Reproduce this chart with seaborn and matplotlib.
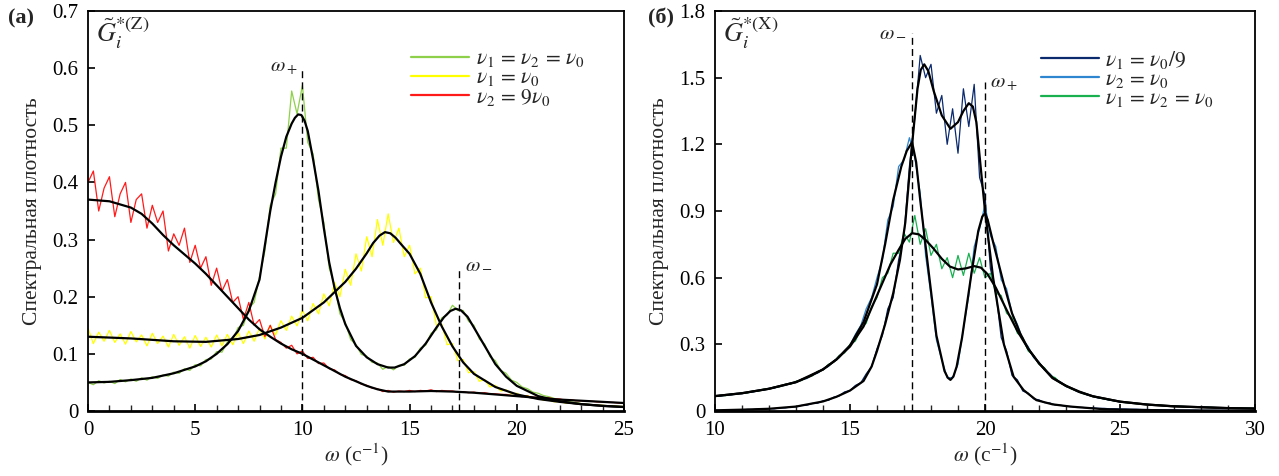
import numpy as np
import pandas as pd
import matplotlib
matplotlib.use("Agg")
import matplotlib.pyplot as plt
import seaborn as sns

# ---------------- Panel (a) data: noisy series on 0..25 step 0.25 ----------------
a_red = [
    .40, .42, .35, .39,
    .41, .34, .38, .40,
    .33, .37, .38, .32,
    .36, .33, .35, .28,
    .31, .29, .32, .26,
    .29, .25, .27, .22,
    .25, .21, .23, .19,
    .20, .16, .19, .15,
    .16, .13, .15, .125,
    .12, .11, .115, .10,
    .105, .092, .094, .083,
    .084, .074, .072, .064,
    .062, .055, .053, .047,
    .045, .040, .039, .034,
    .036, .033, .035, .034,
    .036, .034, .036, .035,
    .037, .034, .036, .035,
    .035, .033, .034, .032,
    .033, .031, .032, .030,
    .030, .029, .029, .027,
    .027, .025, .026, .024,
    .024, .022, .023, .021,
    .021, .019, .020, .018,
    .018, .017, .017, .016,
    .016, .015, .015, .014,
    .014]
a_green = [
    .050, .046, .053, .049,
    .052, .048, .055, .051,
    .056, .052, .058, .054,
    .060, .057, .063, .061,
    .068, .066, .074, .071,
    .081, .079, .090, .091,
    .104, .103, .121, .125,
    .146, .150, .180, .190,
    .235, .28, .36, .38,
    .46, .46, .56, .52,
    .57, .47, .45, .37,
    .33, .25, .22, .17,
    .155, .125, .116, .099,
    .096, .085, .084, .073,
    .078, .072, .080, .080,
    .091, .094, .110, .115,
    .136, .142, .163, .168,
    .185, .176, .176, .157,
    .150, .126, .117, .095,
    .088, .071, .066, .054,
    .050, .042, .039, .033,
    .031, .027, .025, .022,
    .020, .018, .016, .015,
    .013, .012, .011, .010,
    .009, .009, .008, .008,
    .007]
a_yellow = [
    .145, .118, .138, .122,
    .141, .120, .135, .117,
    .139, .121, .133, .114,
    .136, .118, .131, .112,
    .134, .115, .130, .110,
    .132, .113, .129, .112,
    .133, .114, .134, .116,
    .137, .118, .140, .122,
    .145, .126, .150, .133,
    .158, .141, .166, .149,
    .176, .158, .188, .170,
    .205, .184, .225, .200,
    .248, .220, .275, .245,
    .305, .270, .335, .290,
    .345, .295, .320, .270,
    .290, .240, .250, .198,
    .200, .150, .152, .116,
    .118, .088, .090, .067,
    .069, .052, .055, .042,
    .045, .035, .037, .030,
    .031, .026, .027, .022,
    .023, .019, .019, .016,
    .017, .014, .015, .013,
    .013, .011, .011, .010,
    .010, .009, .009, .008,
    .008]

# Panel (a) smooth (fitted) curves
a_fit_green_x = [0, 1, 2, 3, 4, 5, 5.5, 6, 6.5, 7, 7.5, 8, 8.25, 8.5, 8.75, 9, 9.25, 9.5,
                 9.65, 9.8, 9.95, 10.1, 10.25, 10.5, 10.75, 11, 11.25, 11.5, 11.75, 12, 12.5,
                 13, 13.5, 14, 14.3, 14.75, 15.25, 15.75, 16.25, 16.6, 16.9, 17.15, 17.4,
                 17.7, 18, 18.5, 19, 19.5, 20, 21, 22, 23, 24, 25]
a_fit_green_y = [.050, .051, .054, .058, .066, .078, .087, .100, .117, .140, .175, .23, .29,
                 .35, .40, .445, .48, .503, .513, .519, .518, .508, .49, .44, .385, .32, .26,
                 .215, .18, .152, .114, .094, .082, .076, .076, .082, .096, .118, .146, .164,
                 .175, .179, .176, .165, .146, .114, .082, .060, .044, .026, .017, .012, .009,
                 .007]
a_fit_yellow_x = [0, 2, 4, 5.5, 7, 8, 9, 10, 11, 12, 12.5, 13, 13.3, 13.6, 13.85, 14.1, 14.35,
                  14.6, 15, 15.5, 16, 16.5, 17, 17.5, 18, 19, 20, 21, 22, 23, 24, 25]
a_fit_yellow_y = [.130, .127, .122, .121, .126, .133, .146, .163, .19, .226, .249, .276, .294,
                  .307, .313, .311, .303, .292, .275, .24, .19, .148, .113, .085, .065, .042,
                  .029, .021, .016, .012, .009, .007]
a_fit_red_x = [0, 1, 2, 2.5, 3, 3.5, 4, 4.5, 5, 5.5, 6, 6.5, 7, 7.5, 8, 8.5, 9, 9.5, 10,
               10.5, 11, 11.5, 12, 12.5, 13, 13.5, 14, 15, 16, 17, 18, 19, 20, 21, 22, 23,
               24, 25]
a_fit_red_y = [.37, .367, .356, .345, .328, .308, .29, .274, .258, .24, .22, .2, .18, .16,
               .143, .13, .118, .108, .1, .09, .08, .07, .06, .052, .044, .038, .034, .034,
               .035, .034, .032, .029, .026, .023, .02, .018, .016, .014]

# ---------------- Panel (б) data: noisy series on 10..30 step 0.2 ----------------
b_navy = [
    .004, .002, .005, .003, .006,
    .005, .007, .006, .009, .008,
    .011, .010, .014, .014, .018,
    .019, .025, .026, .034, .035,
    .046, .048, .062, .068, .086,
    .092, .115, .127, .167, .20,
    .28, .34, .46, .51, .68,
    .79, 1.10, 1.32, 1.60, 1.50,
    1.56, 1.34, 1.42, 1.20, 1.36,
    1.16, 1.45, 1.28, 1.47, 1.05,
    .97, .64, .54, .33, .27,
    .16, .14, .09, .08, .055,
    .05, .038, .036, .027, .026,
    .021, .020, .016, .016, .014,
    .014, .012, .012, .010, .010,
    .009, .009, .008, .008, .007,
    .007, .006, .006, .005, .005,
    .005, .004, .004, .004, .004,
    .003, .003, .003, .003, .003,
    .002, .002, .002, .002, .002,
    .002]
b_blue = [
    .069, .066, .073, .072, .079,
    .078, .085, .085, .093, .093,
    .102, .103, .114, .115, .126,
    .128, .142, .146, .164, .170,
    .19, .20, .226, .24, .272,
    .295, .345, .385, .46, .51,
    .60, .68, .86, .92, 1.10,
    1.13, 1.23, 1.14, .98, .70,
    .52, .32, .23, .15, .15,
    .21, .37, .52, .74, .82,
    .93, .79, .74, .59, .55,
    .44, .39, .32, .29, .24,
    .22, .185, .168, .142, .130,
    .110, .103, .088, .083, .071,
    .068, .058, .056, .048, .047,
    .040, .040, .035, .035, .030,
    .030, .027, .027, .024, .024,
    .022, .021, .020, .019, .018,
    .017, .017, .016, .015, .015,
    .014, .013, .013, .012, .012,
    .011]
b_green = [
    .065, .071, .069, .077, .075,
    .083, .081, .090, .089, .098,
    .098, .108, .109, .120, .121,
    .134, .137, .153, .158, .178,
    .185, .21, .22, .25, .262,
    .30, .315, .37, .395, .47,
    .51, .60, .62, .71, .71,
    .80, .76, .88, .75, .82,
    .70, .75, .64, .69, .60,
    .70, .61, .71, .62, .69,
    .60, .62, .53, .52, .44,
    .42, .35, .33, .27, .25,
    .21, .195, .16, .15, .125,
    .116, .099, .092, .079, .075,
    .065, .061, .054, .051, .045,
    .043, .038, .037, .033, .032,
    .029, .028, .026, .025, .023,
    .022, .021, .020, .019, .018,
    .017, .016, .016, .015, .014,
    .014, .013, .013, .012, .012,
    .011]

# Panel (б) smooth (fitted) curves
b_fit_navy_x = [10, 11, 12, 13, 14, 14.5, 15, 15.5, 15.8, 16, 16.3, 16.6, 16.85, 17.05, 17.3,
                17.5, 17.62, 17.75, 17.9, 18.1, 18.4, 18.72, 19.0, 19.2, 19.4, 19.55, 19.68,
                19.83, 20.0, 20.3, 20.7, 21.06, 21.43, 21.9, 22.5, 23.16, 24.4, 26, 28, 30]
b_fit_navy_y = [.003, .006, .010, .020, .043, .064, .092, .135, .2, .27, .39, .53, .68, .85,
                1.2, 1.45, 1.535, 1.56, 1.53, 1.44, 1.33, 1.27, 1.3, 1.35, 1.385, 1.37, 1.3,
                1.11, .9, .6, .3, .154, .094, .049, .03, .02, .008, .004, .002, .001]
b_fit_blue_x = [10, 11, 12, 13, 14, 14.5, 15, 15.5, 16, 16.3, 16.6, 16.9, 17.1, 17.3, 17.45,
                17.6, 17.9, 18.2, 18.5, 18.62, 18.72, 18.83, 18.95, 19.15, 19.5, 19.75, 19.9,
                20.0, 20.1, 20.3, 20.7, 21.0, 21.3, 21.6, 22, 22.5, 23, 23.5, 24, 25, 26, 27,
                28, 29, 30]
b_fit_blue_y = [.067, .08, .10, .13, .187, .232, .295, .40, .57, .75, .95, 1.1, 1.17, 1.21,
                1.12, .95, .64, .34, .18, .15, .14, .155, .2, .33, .62, .81, .875, .89, .86,
                .76, .57, .44, .35, .28, .215, .15, .113, .085, .066, .042, .029, .021, .017,
                .013, .011]
b_fit_green_x = [10, 11, 12, 13, 13.5, 14, 14.5, 15, 15.5, 16, 16.5, 16.8, 17.05, 17.3, 17.55,
                 17.8, 18.1, 18.4, 18.7, 19.0, 19.3, 19.6, 19.85, 20.1, 20.4, 20.8, 21.2, 21.6,
                 22, 22.5, 23, 23.5, 24, 25, 26, 27, 28, 29, 30]
b_fit_green_y = [.067, .08, .10, .13, .155, .187, .232, .29, .38, .52, .66, .725, .775, .80,
                 .795, .77, .73, .685, .65, .637, .642, .652, .645, .615, .555, .455, .36, .28,
                 .215, .148, .113, .087, .066, .042, .029, .021, .017, .013, .011]

a_labels = [r"$\nu_1\,=\,\nu_2\,=\,\nu_0$", r"$\nu_1\,=\,\nu_0$", r"$\nu_2\,=\,9\nu_0$"]
b_labels = [r"$\nu_1\,=\,\nu_0/9$", r"$\nu_2\,=\,\nu_0$", r"$\nu_1\,=\,\nu_2\,=\,\nu_0$"]

a_x = np.linspace(0, 25, len(a_red))
b_x = np.linspace(10, 30, len(b_navy))

# ---------------- style ----------------
sns.set_style("white")
plt.rcParams["font.family"] = ["Liberation Serif", "DejaVu Serif"]
plt.rcParams["mathtext.fontset"] = "stix"
plt.rcParams["axes.linewidth"] = 1.3
plt.rcParams["axes.edgecolor"] = "black"

fig = plt.figure(figsize=(12.79, 4.76), dpi=100)
W, H = 1279, 476
axA = fig.add_axes([88 / W, 1 - 411 / H, (624 - 88) / W, (411 - 11) / H])
axB = fig.add_axes([715 / W, 1 - 411 / H, (1255 - 715) / W, (411 - 11) / H])

c_green_a, c_yellow, c_red = "#8ED04A", "#FFFF00", "#FF1A1A"
c_navy, c_blue, c_green_b = "#0B2A6E", "#2E86D0", "#19B050"
noisy_lw = 0.9
fit_kw = dict(color="black", linewidth=1.6, estimator=None, sort=False, legend=False)

# Panel (a)
sns.lineplot(x=a_x, y=a_green, ax=axA, color=c_green_a, linewidth=noisy_lw, label=a_labels[0])
sns.lineplot(x=a_x, y=a_yellow, ax=axA, color=c_yellow, linewidth=noisy_lw, label=a_labels[1])
sns.lineplot(x=a_x, y=a_red, ax=axA, color=c_red, linewidth=noisy_lw, label=a_labels[2])
sns.lineplot(x=a_fit_green_x, y=a_fit_green_y, ax=axA, **fit_kw)
sns.lineplot(x=a_fit_yellow_x, y=a_fit_yellow_y, ax=axA, **fit_kw)
sns.lineplot(x=a_fit_red_x, y=a_fit_red_y, ax=axA, **fit_kw)
axA.vlines(10, 0, 0.6, colors="black", linestyles=(0, (5, 3)), linewidth=1.0)
axA.vlines(17.3, 0, 0.25, colors="black", linestyles=(0, (5, 3)), linewidth=1.0)
axA.text(9.8, 0.585, r"$\omega_+$", ha="right", va="bottom", fontsize=15)
axA.text(17.6, 0.24, r"$\omega_-$", ha="left", va="bottom", fontsize=15)
axA.set_xlim(0, 25)
axA.set_ylim(0, 0.7)
axA.set_xticks([0, 5, 10, 15, 20, 25])
axA.set_xticks(np.arange(0, 26, 1), minor=True)
axA.set_yticks([0, 0.1, 0.2, 0.3, 0.4, 0.5, 0.6, 0.7])
axA.set_yticklabels(["0", "0.1", "0.2", "0.3", "0.4", "0.5", "0.6", "0.7"])
axA.text(0.015, 0.99, r"$\tilde{G}_i^{*(\mathrm{Z})}$", transform=axA.transAxes,
         ha="left", va="top", fontsize=19)

# Panel (б)
sns.lineplot(x=b_x, y=b_navy, ax=axB, color=c_navy, linewidth=noisy_lw, label=b_labels[0])
sns.lineplot(x=b_x, y=b_blue, ax=axB, color=c_blue, linewidth=noisy_lw, label=b_labels[1])
sns.lineplot(x=b_x, y=b_green, ax=axB, color=c_green_b, linewidth=noisy_lw, label=b_labels[2])
sns.lineplot(x=b_fit_navy_x, y=b_fit_navy_y, ax=axB, **fit_kw)
sns.lineplot(x=b_fit_blue_x, y=b_fit_blue_y, ax=axB, **fit_kw)
sns.lineplot(x=b_fit_green_x, y=b_fit_green_y, ax=axB, **fit_kw)
axB.vlines(17.3, 0, 1.7, colors="black", linestyles=(0, (5, 3)), linewidth=1.0)
axB.vlines(20.0, 0, 1.48, colors="black", linestyles=(0, (5, 3)), linewidth=1.0)
axB.text(17.1, 1.66, r"$\omega_-$", ha="right", va="bottom", fontsize=15)
axB.text(20.2, 1.43, r"$\omega_+$", ha="left", va="bottom", fontsize=15)
axB.set_xlim(10, 30)
axB.set_ylim(0, 1.8)
axB.set_xticks([10, 15, 20, 25, 30])
axB.set_xticks(np.arange(10, 31, 1), minor=True)
axB.set_yticks([0, 0.3, 0.6, 0.9, 1.2, 1.5, 1.8])
axB.set_yticklabels(["0", "0.3", "0.6", "0.9", "1.2", "1.5", "1.8"])
axB.text(0.015, 0.99, r"$\tilde{G}_i^{*(\mathrm{X})}$", transform=axB.transAxes,
         ha="left", va="top", fontsize=19)

for ax in (axA, axB):
    for s in ax.spines.values():
        s.set_visible(True)
        s.set_color("black")
        s.set_linewidth(1.3)
    ax.spines["bottom"].set_linewidth(2.0)
    ax.tick_params(axis="both", which="major", direction="in", length=5, width=1.2,
                   labelsize=15, colors="black", pad=7)
    ax.tick_params(axis="x", which="minor", direction="in", length=4, width=1.0)
    ax.tick_params(axis="y", which="minor", left=False)
    ax.tick_params(bottom=True, left=True, top=False, right=False)
    ax.tick_params(axis="x", which="minor", bottom=True)
    ax.set_xlabel(r"$\omega$ (с$^{\mathrm{-1}}$)", fontsize=15.5, labelpad=1)
    ax.set_ylabel("Спектральная плотность", fontsize=15.5, labelpad=7)
    leg = ax.legend(loc="upper left", bbox_to_anchor=(0.603, 0.905), frameon=False,
                    fontsize=15.5, handlelength=2.7, handletextpad=0.3, labelspacing=-0.05,
                    borderpad=0, borderaxespad=0)
    for line in leg.get_lines():
        line.set_linewidth(1.6)

fig.text(8 / W, 1 - 18 / H, "(a)", fontsize=16, fontweight="bold", ha="left", va="center")
fig.text(648 / W, 1 - 18 / H, "(б)", fontsize=16, fontweight="bold", ha="left", va="center")

fig.savefig("out.png", dpi=100)
